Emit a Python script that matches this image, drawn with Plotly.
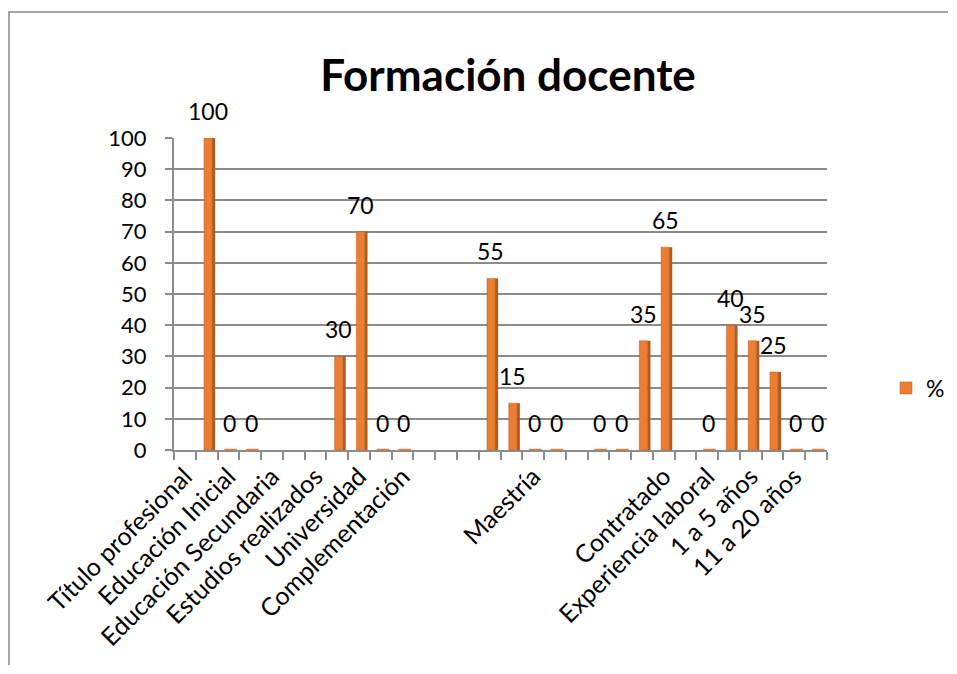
import plotly.graph_objects as go

# ---- data ----
positions = list(range(30))
values = [None, 100, 0, 0, None, None, None, 30, 70, 0, 0, None, None, None,
          55, 15, 0, 0, None, 0, 0, 35, 65, None, 0, 40, 35, 25, 0, 0]
tick_positions = list(range(0, 30, 2))
tick_labels = ["Título profesional", "Educación Inicial", "Educación Secundaria",
               "Estudios realizados", "Universidad", "Complementación", "", "",
               "Maestría", "", "", "Contratado", "Experiencia laboral",
               "1 a 5 años", "11 a 20 años"]
series_name = "%"
title_text = "Formación docente"

FONT = "Lato, Carlito, Calibri, sans-serif"
ORANGE = "#ED7D31"
DARK = "#B35A1F"
GRID = "#8C8C8C"

OFF = 8  # page body margin
W, H = 957 - 2 * OFF, 674 - 2 * OFF
L, T = 174 - OFF, 138 - OFF
R = W - (827 - OFF)
B = H - (450 - OFF)
pw, ph = W - L - R, H - T - B


def px2paper_x(px):
    return (px - OFF - L) / pw


def px2paper_y(py):
    return (H - B - (py - OFF)) / ph


fig = go.Figure()
# side face (3D look)
fig.add_trace(go.Bar(x=positions, y=values, width=0.14, offset=0.25,
                     marker=dict(color=DARK, line=dict(width=0)),
                     showlegend=False, hoverinfo="skip"))
# front face
fig.add_trace(go.Bar(x=positions, y=values, width=0.37, offset=-0.12,
                     name=series_name,
                     marker=dict(color=ORANGE, line=dict(color=DARK, width=0.5))))
# flat marks for zero-valued bars (lying on the floor)
zero_x = [p for p, v in zip(positions, values) if v == 0]
zero_y = [v for v in values if v == 0]
fig.add_trace(go.Scatter(x=[p + 0.1 for p in zero_x], y=zero_y, mode="markers",
                         marker=dict(symbol="line-ew-open", size=9, color=ORANGE,
                                     line=dict(color=ORANGE, width=2.5)),
                         showlegend=False, hoverinfo="skip", cliponaxis=False))

for xi, v in zip(positions, values):
    if v is None:
        continue
    fig.add_annotation(x=xi + 0.06, y=v, text=str(v), showarrow=False,
                       yanchor="bottom", yshift=11,
                       font=dict(family=FONT, size=23, color="#000000"))

# outer chart frame: only its top and left edges fall inside the picture
fx0, fx1 = px2paper_x(9), px2paper_x(948)
fy0, fy1 = px2paper_y(665), px2paper_y(12)
fig.add_shape(type="path", xref="paper", yref="paper",
              path=f"M {fx0},{fy0} L {fx0},{fy1} L {fx1},{fy1}",
              fillcolor="rgba(0,0,0,0)",
              line=dict(color="#A6A6A6", width=2), layer="above")

fig.update_layout(
    width=W, height=H,
    margin=dict(l=L, r=R, t=T, b=B, autoexpand=False),
    paper_bgcolor="white", plot_bgcolor="white",
    barmode="overlay",
    title=dict(text="<b>" + title_text + "</b>", x=(508 - OFF) / W, xanchor="center",
               y=1 - (76 - OFF) / H, yanchor="middle",
               font=dict(family=FONT, size=44, color="#000000")),
    font=dict(family=FONT, size=22, color="#000000"),
    legend=dict(x=px2paper_x(886), y=px2paper_y(388), xanchor="left",
                yanchor="middle", font=dict(family=FONT, size=23),
                bgcolor="rgba(0,0,0,0)"),
    showlegend=True,
)
fig.update_xaxes(range=[-0.5, 29.5], tickmode="array", tickvals=tick_positions,
                 ticktext=tick_labels, tickangle=-45, ticks="",
                 showgrid=False, showline=True, linecolor=GRID, linewidth=2,
                 zeroline=False, tickfont=dict(family=FONT, size=25),
                 minor=dict(ticks="outside", tickvals=[p - 0.5 for p in positions] + [29.5],
                            ticklen=8, tickcolor=GRID, tickwidth=1.5, showgrid=False))
fig.update_yaxes(range=[0, 100], tickmode="linear", tick0=0, dtick=10,
                 showgrid=True, gridcolor=GRID, gridwidth=2,
                 showline=True, linecolor=GRID, linewidth=2,
                 ticks="outside", ticklen=7, tickcolor=GRID, tickwidth=1.5,
                 ticklabelstandoff=14, zeroline=False,
                 tickfont=dict(family=FONT, size=22))

fig.write_html("out.html")
